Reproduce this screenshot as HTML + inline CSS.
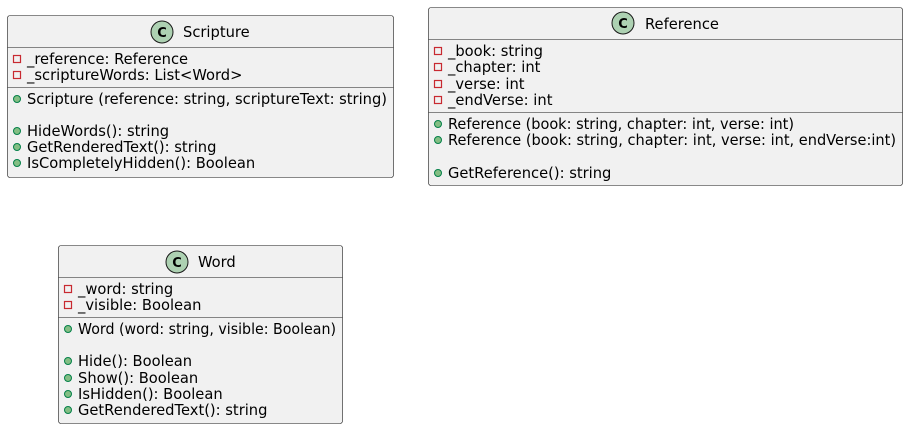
<!DOCTYPE html>
<html><head><meta charset="utf-8"><style>
html,body{margin:0;padding:0;background:#fff;width:908px;height:429px;overflow:hidden}
svg text{font-family:"DejaVu Sans","Liberation Sans",sans-serif;font-size:14.7px;fill:#000}
</style></head><body>
<svg width="908" height="429" xmlns="http://www.w3.org/2000/svg">
<defs>
<g id="priv"><rect x="-3.5" y="-3.5" width="7" height="7" fill="none" stroke="#C82930" stroke-width="1.2"/></g>
<g id="pub"><circle r="3.5" fill="#84BE84" stroke="#038048" stroke-width="1"/></g>
</defs>
<g stroke="#181818" stroke-width="0.6" fill="#F1F1F1">
<rect x="7.5" y="15.5" width="386" height="162" rx="2.5"/>
<rect x="428.5" y="7.5" width="474" height="178" rx="2.5"/>
<rect x="58.5" y="245.5" width="284" height="178" rx="2.5"/>
</g>
<g stroke="#181818" stroke-width="0.6">
<line x1="7.5" y1="47.5" x2="393.5" y2="47.5"/><line x1="7.5" y1="87.5" x2="393.5" y2="87.5"/>
<line x1="428.5" y1="39.5" x2="902.5" y2="39.5"/><line x1="428.5" y1="112.5" x2="902.5" y2="112.5"/>
<line x1="58.5" y1="277.5" x2="342.5" y2="277.5"/><line x1="58.5" y1="317.5" x2="342.5" y2="317.5"/>
</g>
<g fill="#ADD1B2" stroke="#181818" stroke-width="1">
<circle cx="162" cy="32" r="11"/><circle cx="623" cy="23" r="11"/><circle cx="177" cy="262" r="11"/>
</g>
<text x="162" y="37" text-anchor="middle" style="font-size:13px;font-weight:bold">C</text>
<text x="623" y="28" text-anchor="middle" style="font-size:13px;font-weight:bold">C</text>
<text x="177" y="267" text-anchor="middle" style="font-size:13px;font-weight:bold">C</text>
<text x="183" y="37">Scripture</text>
<text x="645" y="29">Reference</text>
<text x="198" y="267">Word</text>

<use href="#priv" x="17" y="59"/><text x="27" y="64">_reference: Reference</text>
<use href="#priv" x="17" y="75"/><text x="27" y="80">_scriptureWords: List&lt;Word&gt;</text>
<use href="#pub" x="17" y="99"/><text x="27" y="104" textLength="360" lengthAdjust="spacingAndGlyphs">Scripture (reference: string, scriptureText: string)</text>
<use href="#pub" x="17" y="131"/><text x="27" y="136">HideWords(): string</text>
<use href="#pub" x="17" y="147"/><text x="27" y="152">GetRenderedText(): string</text>
<use href="#pub" x="17" y="163"/><text x="27" y="168">IsCompletelyHidden(): Boolean</text>

<use href="#priv" x="438" y="51"/><text x="448" y="56">_book: string</text>
<use href="#priv" x="438" y="67"/><text x="448" y="72">_chapter: int</text>
<use href="#priv" x="438" y="84"/><text x="448" y="89">_verse: int</text>
<use href="#priv" x="438" y="100"/><text x="448" y="105">_endVerse: int</text>
<use href="#pub" x="438" y="124"/><text x="448" y="129" textLength="346" lengthAdjust="spacingAndGlyphs">Reference (book: string, chapter: int, verse: int)</text>
<use href="#pub" x="438" y="140"/><text x="448" y="145" textLength="448" lengthAdjust="spacingAndGlyphs">Reference (book: string, chapter: int, verse: int, endVerse:int)</text>
<use href="#pub" x="438" y="173"/><text x="448" y="178">GetReference(): string</text>

<use href="#priv" x="68" y="289"/><text x="78" y="294">_word: string</text>
<use href="#priv" x="68" y="305"/><text x="78" y="310">_visible: Boolean</text>
<use href="#pub" x="68" y="329"/><text x="78" y="334" textLength="258" lengthAdjust="spacingAndGlyphs">Word (word: string, visible: Boolean)</text>
<use href="#pub" x="68" y="361"/><text x="78" y="366">Hide(): Boolean</text>
<use href="#pub" x="68" y="378"/><text x="78" y="383">Show(): Boolean</text>
<use href="#pub" x="68" y="394"/><text x="78" y="399">IsHidden(): Boolean</text>
<use href="#pub" x="68" y="410"/><text x="78" y="415">GetRenderedText(): string</text>
</svg>
</body></html>
